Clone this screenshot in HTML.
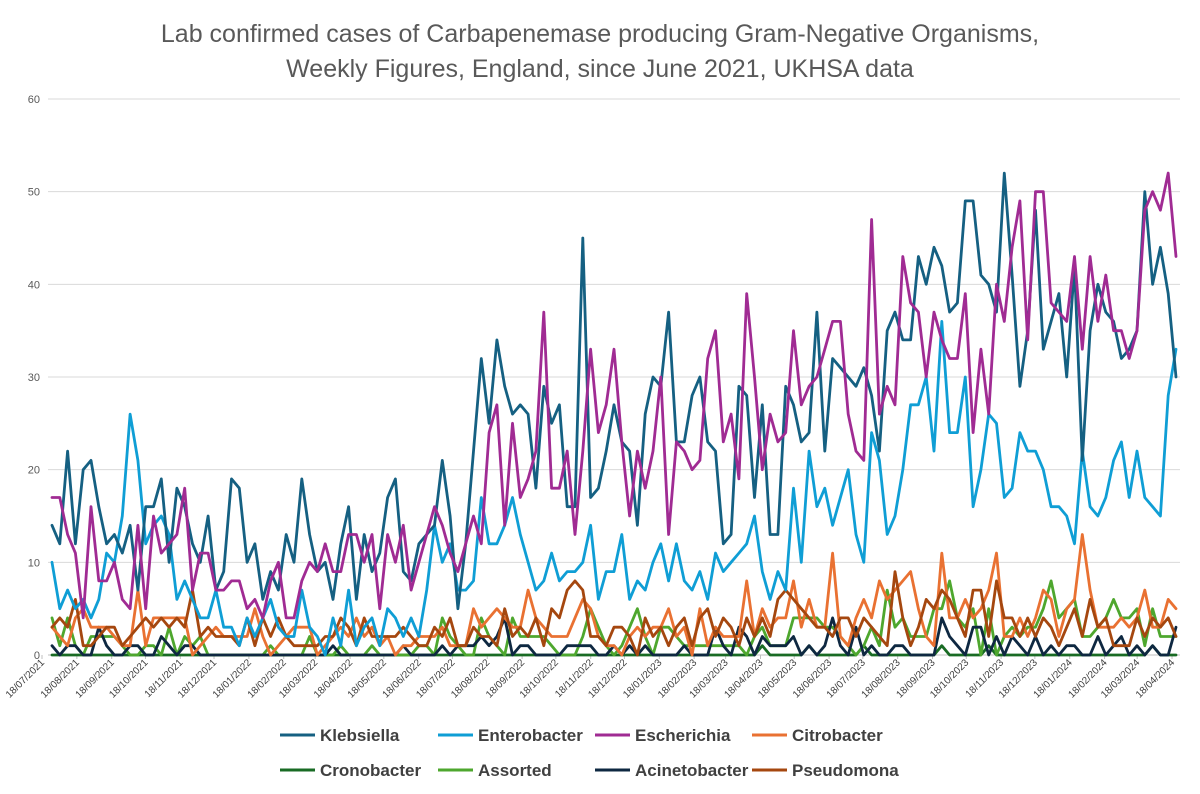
<!DOCTYPE html>
<html><head><meta charset="utf-8"><style>
html,body{margin:0;padding:0;background:#fff;}
svg{display:block;font-family:"Liberation Sans",sans-serif;}
</style></head><body>
<svg id="chart" width="1200" height="794" viewBox="0 0 1200 794">
<text x="600" y="42" text-anchor="middle" font-size="25" fill="#595959">Lab confirmed cases of Carbapenemase producing Gram-Negative Organisms,</text>
<text x="600" y="77" text-anchor="middle" font-size="25" fill="#595959">Weekly Figures, England, since June 2021, UKHSA data</text>
<g id="grid"></g>
<g id="yaxis"></g>
<g id="xaxis"></g>
<g id="series"></g>
<g id="legend"></g>
</svg>
<script>
const yTicks = [0,10,20,30,40,50,60];
const xTickLabels = ["18/07/2021","18/08/2021","18/09/2021","18/10/2021","18/11/2021","18/12/2021","18/01/2022","18/02/2022","18/03/2022","18/04/2022","18/05/2022","18/06/2022","18/07/2022","18/08/2022","18/09/2022","18/10/2022","18/11/2022","18/12/2022","18/01/2023","18/02/2023","18/03/2023","18/04/2023","18/05/2023","18/06/2023","18/07/2023","18/08/2023","18/09/2023","18/10/2023","18/11/2023","18/12/2023","18/01/2024","18/02/2024","18/03/2024","18/04/2024"];
const seriesNames = ["Klebsiella","Enterobacter","Escherichia","Citrobacter","Cronobacter","Assorted","Acinetobacter","Pseudomona"];
const klebsiella = [14,12,22,12,20,21,16,12,13,11,14,7,16,16,19,10,18,16,12,10,15,7,9,19,
18,10,12,6,9,7,13,10,19,13,9,10,6,12,16,6,13,9,11,17,19,9,8,12,13,
14,21,15,5,12,22,32,25,34,29,26,27,26,18,29,25,27,16,16,45,17,18,22,27,
23,22,14,26,30,29,37,23,23,28,30,23,22,12,13,29,28,17,27,13,13,29,27,23,
24,37,22,32,31,30,29,31,28,22,35,37,34,34,43,40,44,42,37,38,49,49,41,40,
37,52,41,29,35,48,33,36,39,30,42,21,35,40,37,36,32,33,35,50,40,44,39,30];
const enterobacter = [10,5,7,5,6,4,6,11,10,15,26,21,12,14,15,13,6,8,6,4,4,7,3,3,
1,4,2,4,6,3,2,2,7,3,2,0,4,1,7,1,3,4,1,5,4,2,4,2,7,
14,10,12,7,7,8,17,12,12,14,17,13,10,7,8,11,8,9,9,10,14,6,9,9,
13,6,8,7,10,12,8,12,8,7,9,6,11,9,10,11,12,15,9,6,9,7,18,10,
22,16,18,14,17,20,13,10,24,21,13,15,20,27,27,30,22,36,24,24,30,16,20,26,
25,17,18,24,22,22,20,16,16,15,12,22,16,15,17,21,23,17,22,17,16,15,28,33];
const escherichia = [17,17,13,11,4,16,8,8,10,6,5,14,5,15,11,12,13,18,7,11,11,7,7,8,
8,5,6,4,8,10,4,4,8,10,9,12,9,9,13,13,10,13,5,13,10,14,7,10,13,
16,14,11,9,12,15,12,24,27,14,25,17,19,22,37,18,18,22,13,22,33,24,27,33,
23,15,22,18,22,30,13,23,22,20,21,32,35,23,26,19,39,30,20,26,23,24,35,27,
29,30,33,36,36,26,22,21,47,26,29,27,43,38,37,30,37,34,32,32,39,24,33,26,
40,36,44,49,34,50,50,38,37,36,43,33,43,36,41,35,35,32,35,48,50,48,52,43];
const citrobacter = [3,2,1,4,5,3,3,3,2,1,1,7,1,4,4,4,4,4,0,1,2,3,2,2,2,2,5,2,0,1,2,3,3,3,0,1,
2,3,2,4,2,3,1,2,0,1,1,2,2,2,3,1,1,1,5,3,4,5,4,3,3,7,4,3,2,2,2,4,6,5,2,1,1,
0,2,3,2,3,3,5,2,3,0,5,1,3,2,2,2,8,2,5,3,4,4,8,3,6,3,3,11,2,1,4,6,4,8,6,7,8,
9,5,2,1,11,4,4,6,4,5,7,11,2,2,4,2,4,7,6,2,5,6,13,7,3,3,3,4,3,4,7,3,3,6,5];
const cronobacter = [0,0,0,0,0,0,0,0,0,0,0,0,0,0,0,0,0,0,0,0,0,0,0,0,0,0,0,0,0,0,0,0,0,0,0,0,
0,0,0,0,0,0,0,0,0,0,0,0,0,0,0,0,0,0,0,0,0,0,0,0,0,0,0,0,0,0,0,0,0,0,0,0,0,
0,0,0,0,0,0,0,0,0,0,0,0,0,0,0,0,0,0,1,0,0,0,0,0,1,0,0,0,0,0,0,1,0,0,0,0,0,
0,0,0,0,1,0,0,0,0,0,1,0,0,0,0,0,0,0,0,0,0,0,0,0,0,0,0,0,0,0,0,1,0,0,0];
const assorted = [4,1,4,1,0,2,2,2,2,1,0,0,1,1,0,3,0,2,1,2,0,0,0,0,0,0,0,0,1,0,0,0,0,2,0,0,
0,1,0,0,0,1,0,0,0,0,0,1,1,0,4,2,1,0,0,4,2,1,0,4,2,2,2,2,1,0,0,0,2,5,3,1,0,
1,3,5,2,0,3,3,2,1,1,1,1,1,1,1,1,0,2,3,1,1,1,4,4,4,4,3,3,2,1,0,1,3,1,7,3,4,
2,2,2,5,5,8,4,3,5,0,5,0,2,3,2,3,3,5,8,4,5,6,2,2,3,4,6,4,4,5,1,5,2,2,2];
const acinetobacter = [1,0,1,1,0,0,3,1,0,0,1,1,0,0,2,1,0,1,1,0,0,0,0,0,0,0,0,0,0,0,0,0,0,0,0,0,
1,0,0,0,0,0,0,0,0,1,0,0,0,0,1,0,1,1,1,2,1,2,4,0,1,1,0,0,0,0,1,1,1,1,0,0,1,
0,1,0,1,0,0,0,0,1,0,0,0,3,1,0,3,2,0,2,1,1,1,2,0,1,0,1,4,1,0,3,0,1,0,0,1,1,
0,0,0,0,4,2,1,0,3,3,0,2,0,2,1,0,2,0,1,0,1,1,0,0,2,0,1,2,0,1,0,1,0,0,3];
const pseudomona = [3,4,3,6,1,1,2,3,3,1,2,3,4,3,4,3,4,3,7,2,3,2,2,2,1,4,1,4,2,4,2,1,1,1,1,2,
2,4,3,1,4,2,2,2,2,3,2,1,1,3,2,4,1,1,3,2,2,1,5,2,3,2,4,1,5,4,7,8,7,2,2,1,3,
3,2,0,4,2,3,1,3,4,1,4,5,2,4,3,1,4,2,4,2,6,7,6,5,4,3,3,2,4,4,2,4,3,2,1,9,4,
1,3,6,5,7,6,4,2,7,7,2,8,4,4,2,4,2,4,3,1,3,5,2,6,3,4,1,1,1,4,2,4,3,4,2];
const seriesData = [klebsiella,enterobacter,escherichia,citrobacter,cronobacter,assorted,acinetobacter,pseudomona];
const seriesColors = ["#156082","#0F9ED5","#A02B93","#E97132","#196B24","#4EA72E","#0E2841","#A5470F"];
const drawOrder = [4,5,6,3,7,1,0,2];

const NS = "http://www.w3.org/2000/svg";
const X0 = 52, X1 = 1176, Y0 = 655, Y60 = 99, PL = 48, PR = 1180;
function yScale(v){ return Y0 - (v/60)*(Y0-Y60); }
function xIdx(i, n){ return X0 + i*(X1-X0)/(n-1); }
const baseDate = Date.UTC(2021,6,18);
function xDate(s){ const p=s.split("/"); const d=Date.UTC(+p[2],+p[1]-1,+p[0]); return 42 + (d-baseDate)/86400000*1.1244; }
function mk(tag, attrs, parent){ const e=document.createElementNS(NS,tag); for(const k in attrs) e.setAttribute(k,attrs[k]); parent.appendChild(e); return e; }

const grid = document.getElementById("grid");
const yaxis = document.getElementById("yaxis");
yTicks.forEach(v=>{
  const y = yScale(v);
  const l = mk("line",{x1:PL,x2:PR,y1:y,y2:y,stroke: v===0?"#BFBFBF":"#D9D9D9","stroke-width":1},grid);
  
  
  const t = mk("text",{x:40,y:y+4,"text-anchor":"end","font-size":11,fill:"#595959"},yaxis);
  t.textContent = v;
  
  
});
const xaxis = document.getElementById("xaxis");
xTickLabels.forEach(s=>{
  const x = xDate(s);
  const tk = mk("line",{x1:x,x2:x,y1:Y0,y2:Y0+4,stroke:"#BFBFBF"},xaxis);
  
  
  const t = mk("text",{x:x+3,y:Y0+8,"text-anchor":"end","font-size":10,fill:"#404040",transform:`rotate(-45 ${x+3} ${Y0+8})`},xaxis);
  t.textContent = s;
  
  
});
const sg = document.getElementById("series");
drawOrder.forEach(k=>{
  const arr = seriesData[k];
  const pts = arr.map((v,i)=>xIdx(i,arr.length).toFixed(1)+","+yScale(v).toFixed(1)).join(" ");
  const p = mk("polyline",{points:pts,fill:"none",stroke:seriesColors[k],"stroke-width":2.8,"stroke-linejoin":"round","stroke-linecap":"round"},sg);
  
  
});
const lg = document.getElementById("legend");
const legendX = [280,438,595,752];
seriesNames.forEach((n,k)=>{
  const x = legendX[k%4], y = k<4 ? 735 : 770;
  const g = mk("g",{},lg);
  
  
  mk("line",{x1:x,x2:x+35,y1:y,y2:y,stroke:seriesColors[k],"stroke-width":3},g);
  const t = mk("text",{x:x+40,y:y+6,"font-size":17,"font-weight":"bold",fill:"#404040"},g);
  t.textContent = n;
});
</script>
</body></html>
